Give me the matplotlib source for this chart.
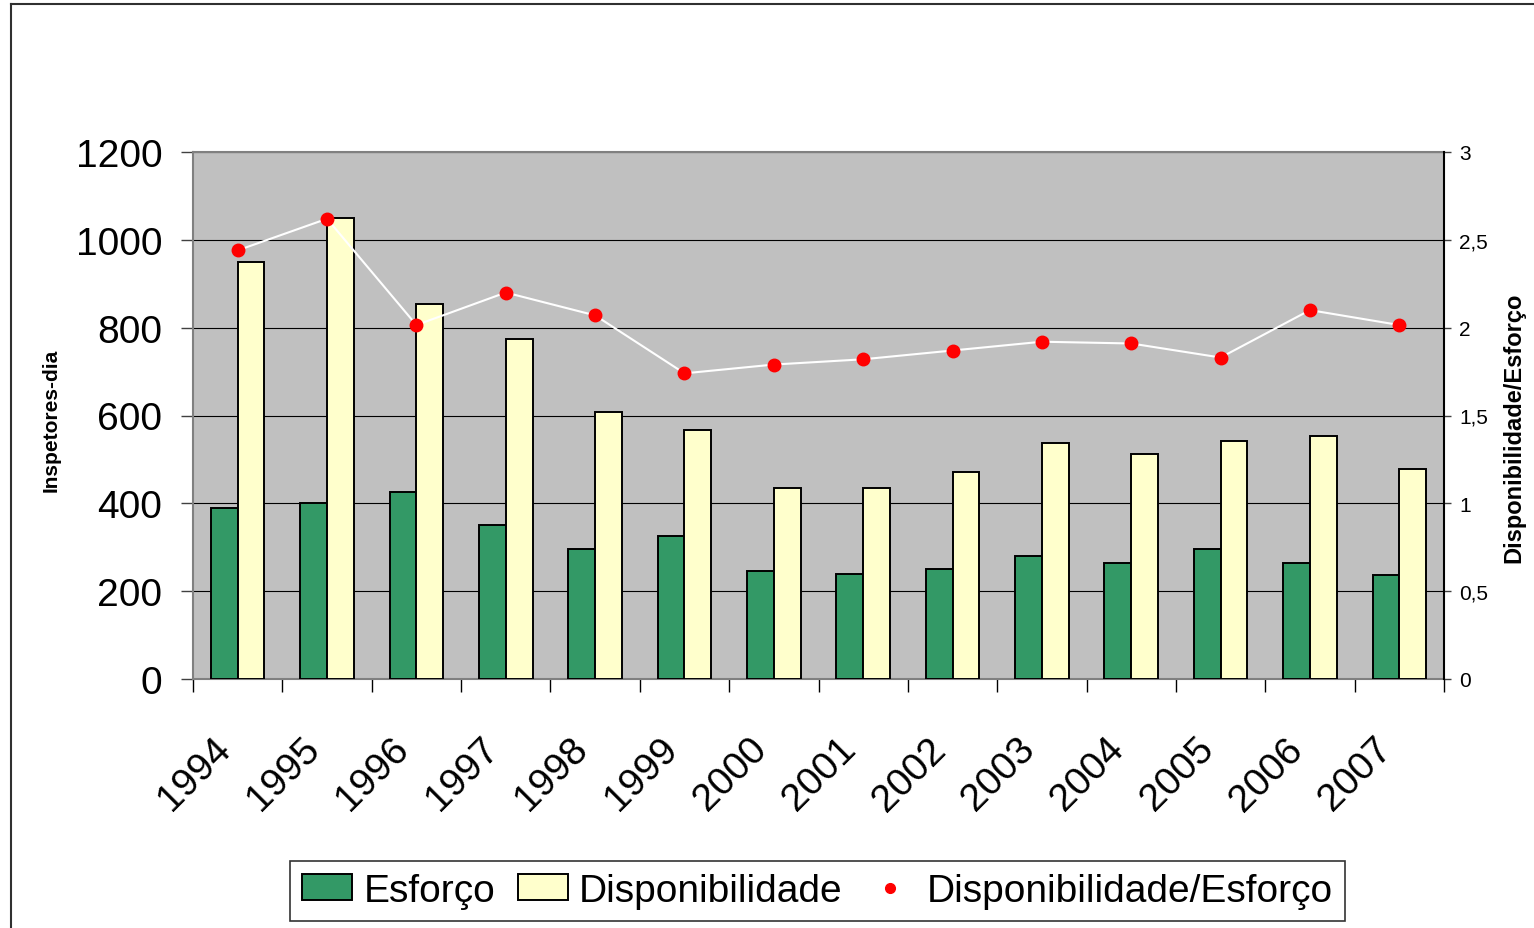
import matplotlib
matplotlib.use('Agg')
import matplotlib.pyplot as plt
import matplotlib.transforms as mtransforms
from matplotlib import font_manager
from matplotlib.lines import Line2D
from matplotlib.patches import Patch
import numpy as np


## data ##
anos = ['1994', '1995', '1996', '1997', '1998', '1999', '2000',
        '2001', '2002', '2003', '2004', '2005', '2006', '2007']
esforco = [390, 400, 425, 350, 295, 325, 245, 240, 250, 280, 265, 295, 265, 236]
disponibilidade = [950, 1050, 855, 775, 608, 568, 435, 435, 472, 537, 512, 542, 553, 478]
razao = [2.44, 2.62, 2.015, 2.20, 2.07, 1.74, 1.79, 1.82, 1.87, 1.92, 1.91, 1.83, 2.10, 2.015]

y_ticks = [0, 200, 400, 600, 800, 1000, 1200]
y2_ticks = [0, 0.5, 1, 1.5, 2, 2.5, 3]
y2_labels = ['0', '0,5', '1', '1,5', '2', '2,5', '3']


## fonts ##
names = {f.name for f in font_manager.fontManager.ttflist}
narrow = 'Liberation Sans Narrow' if 'Liberation Sans Narrow' in names else 'Liberation Sans'
big = 32 if narrow == 'Liberation Sans Narrow' else 28
plt.rcParams['font.family'] = ['Liberation Sans', 'DejaVu Sans']

## formatting ##
verde = '#339966'
amarelo = '#FFFFCC'
fundo = '#C0C0C0'
W, H = 1534, 929

fig = plt.figure(figsize=(W / 100, H / 100), dpi=100)
ax = fig.add_axes([193 / W, 1 - 680 / H, (1444 - 193) / W, (680 - 153) / H])
ax.set_facecolor(fundo)

x = np.arange(len(anos))
bw = 0.30
ax.bar(x - bw / 2, esforco, bw, color=verde, edgecolor='black', linewidth=1.4, zorder=3)
ax.bar(x + bw / 2, disponibilidade, bw, color=amarelo, edgecolor='black', linewidth=1.4, zorder=3)

ax.set_xlim(-0.5, len(anos) - 0.5)
ax.set_ylim(0, 1200)
ax.set_yticks(y_ticks)
ax.set_yticklabels([str(v) for v in y_ticks], fontsize=big, family=narrow)
ax.tick_params(axis='y', length=9, width=1, color='#404040', pad=13)
ax.yaxis.grid(True, color='black', linewidth=0.8)
ax.set_axisbelow(True)

# years at category centres, tick marks at boundaries
ax.set_xticks(x)
ax.set_xticklabels(anos, fontsize=big, family=narrow, rotation=45, ha='right', va='top')
ax.tick_params(axis='x', which='major', length=0, pad=37)
ax.set_xticks(np.arange(-0.5, len(anos)), minor=True)
ax.tick_params(axis='x', which='minor', length=9.5, width=1, color='black')
shift = mtransforms.ScaledTranslation(0 / 100, 0, fig.dpi_scale_trans)
for lab in ax.get_xticklabels():
    lab.set_transform(lab.get_transform() + shift)

for s in ['top', 'left', 'bottom']:
    ax.spines[s].set_color('#808080')
    ax.spines[s].set_linewidth(1.5)
ax.spines['right'].set_visible(False)

ax.set_ylabel('Inspetores-dia', fontsize=15, fontweight='bold')
ax.yaxis.set_label_coords(61 / W, 1 - 420 / H, transform=fig.transFigure)

# ratio on secondary axis
ax2 = ax.twinx()
ax2.plot(x, razao, color='white', linewidth=1.5, zorder=4)
ax2.plot(x, razao, 'o', color='#FF0000', markersize=9, zorder=5)
ax2.set_ylim(0, 3)
ax2.set_yticks(y2_ticks)
ax2.set_yticklabels(y2_labels, fontsize=15)
ax2.tick_params(axis='y', length=5, width=1, color='#404040', pad=6)
ax2.spines['right'].set_color('black')
ax2.spines['right'].set_linewidth(1.5)
for s in ['top', 'left', 'bottom']:
    ax2.spines[s].set_visible(False)
ax2.set_ylabel('Disponibilidade/Esforço', fontsize=17, fontweight='bold')
ax2.yaxis.set_label_coords(1502 / W, 1 - 428 / H, transform=fig.transFigure)

# legend
handles = [
    Patch(facecolor=verde, edgecolor='black', linewidth=1.4),
    Patch(facecolor=amarelo, edgecolor='black', linewidth=1.4),
    Line2D([], [], linestyle='none', marker='o', color='#FF0000', markersize=7),
]
leg = fig.legend(handles, ['Esforço', 'Disponibilidade', 'Disponibilidade/Esforço'],
                 loc='center', bbox_to_anchor=(817.5 / W, 1 - 892 / H), ncol=3,
                 fontsize=28, frameon=True, fancybox=False, edgecolor='black',
                 handlelength=1.28, handleheight=0.65, handletextpad=0.3,
                 columnspacing=0.58, borderpad=0.3)
leg.get_frame().set_linewidth(1.2)

# outer chart frame (left and top edges visible)
fig.add_artist(Line2D([11 / W, 11 / W], [0, 1 - 5 / H], transform=fig.transFigure,
                      color='#303030', linewidth=1.5))
fig.add_artist(Line2D([11 / W, 1], [1 - 5 / H, 1 - 5 / H], transform=fig.transFigure,
                      color='#303030', linewidth=1.5))

fig.savefig('out.png', dpi=100)
